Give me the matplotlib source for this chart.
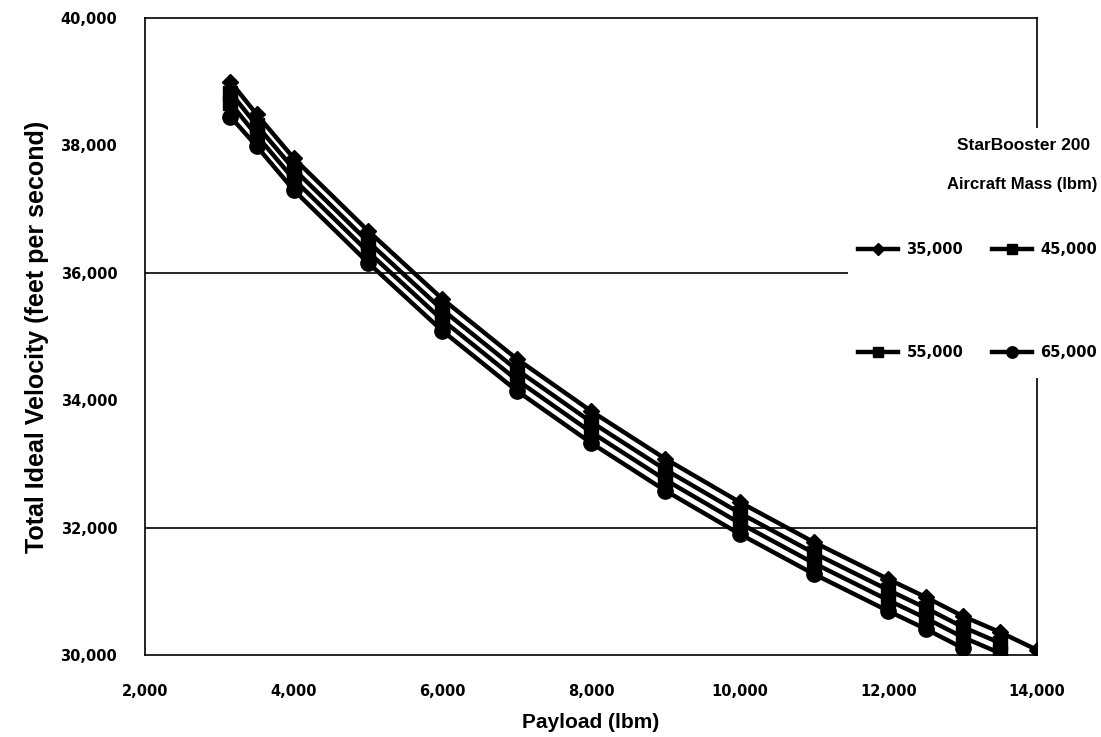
import matplotlib
matplotlib.use("Agg")
import matplotlib.pyplot as plt
from matplotlib.patches import Rectangle
from matplotlib.ticker import FuncFormatter

plt.rcParams['font.family'] = ['Liberation Sans', 'DejaVu Sans']
plt.rcParams['font.weight'] = 'bold'
wide = ['DejaVu Sans']

# payload points (lbm) and total ideal velocity (ft/s) for each aircraft mass
payload = [3150, 3500, 4000, 5000, 6000, 7000, 8000, 9000, 10000,
           11000, 12000, 12500, 13000, 13500, 14000]

v_35k = [39000, 38490, 37800, 36660, 35590, 34650, 33830, 33080, 32400,
         31770, 31190, 30910, 30610, 30360, 30080]
v_45k = [38830, 38320, 37630, 36490, 35420, 34480, 33660, 32910, 32230,
         31600, 31020, 30740, 30440, 30190]
v_55k = [38660, 38160, 37470, 36330, 35260, 34320, 33500, 32750, 32070,
         31440, 30860, 30580, 30280, 30030]
v_65k = [38450, 37990, 37300, 36160, 35090, 34150, 33330, 32580, 31900,
         31270, 30690, 30410, 30110]

series = [('35,000', v_35k, 'D', 8),
          ('45,000', v_45k, 's', 10),
          ('55,000', v_55k, 's', 10.5),
          ('65,000', v_65k, 'o', 11)]

fig = plt.figure(figsize=(11.01, 7.37), dpi=100)
ax = fig.add_axes([145 / 1101, 1 - 655 / 737, 892 / 1101, 637 / 737])

handles = {}
for name, vals, mk, ms in series:
    h, = ax.plot(payload[:len(vals)], vals, color='black', linewidth=3.2,
                 marker=mk, markersize=ms, markerfacecolor='black',
                 markeredgecolor='black', label=name)
    handles[name] = h

ax.set_xlim(2000, 14000)
ax.set_ylim(30000, 40000)
ax.set_xticks(range(2000, 14001, 2000))
ax.set_yticks(range(30000, 40001, 2000))
fmt = FuncFormatter(lambda v, p: f'{int(v):,}')
ax.xaxis.set_major_formatter(fmt)
ax.yaxis.set_major_formatter(fmt)
ax.tick_params(axis='both', length=0)
ax.tick_params(axis='x', pad=21)
ax.tick_params(axis='y', pad=20)
for lbl in ax.get_xticklabels() + ax.get_yticklabels():
    lbl.set_fontfamily(wide)
    lbl.set_fontsize(10.5)
    lbl.set_fontweight('bold')

for g in (32000, 36000):
    ax.axhline(g, color='black', linewidth=1.2, zorder=1)

for s in ax.spines.values():
    s.set_linewidth(1.2)
    s.set_color('black')

ax.set_xlabel('Payload (lbm)', fontsize=15, fontweight='bold', labelpad=10)
ax.set_ylabel('Total Ideal Velocity (feet per second)', fontsize=18,
              fontweight='bold', labelpad=8)

# white area behind the legend, covering the right frame
fig.add_artist(Rectangle((848 / 1101, 1 - 378 / 737), 253 / 1101, 250 / 737,
                         transform=fig.transFigure, facecolor='white',
                         edgecolor='none', zorder=1))

fig.text(1024 / 1101, 1 - 146 / 737, 'StarBooster 200', ha='center',
         va='center', fontsize=12.5, fontweight='bold', zorder=3)
fig.text(1022 / 1101, 1 - 184 / 737, 'Aircraft Mass (lbm)', ha='center',
         va='center', fontsize=12, fontweight='bold', zorder=3)

order = ['35,000', '55,000', '45,000', '65,000']
leg = fig.legend(handles=[handles[k] for k in order], loc='upper left',
                 bbox_to_anchor=(851 / 1101, 1 - 235 / 737), ncol=2,
                 frameon=False, prop={'family': wide, 'size': 10.5,
                                      'weight': 'bold'},
                 handlelength=2.7, handletextpad=0.6, columnspacing=2.0,
                 labelspacing=6.0, borderpad=0, markerscale=0.75)
leg.set_zorder(4)

fig.savefig('out.png', dpi=100)
